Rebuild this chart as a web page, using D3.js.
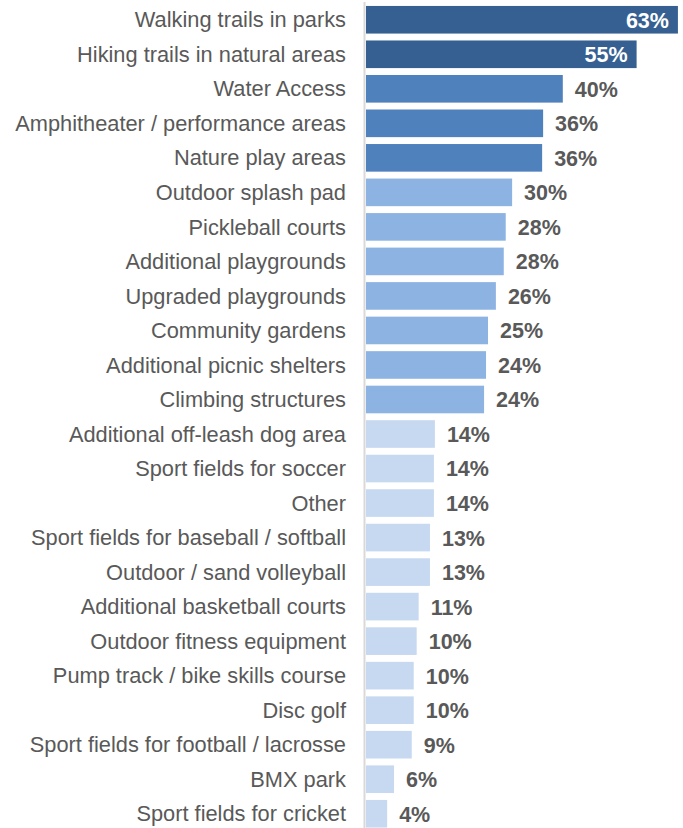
<!DOCTYPE html>
<html>
<head>
<meta charset="utf-8">
<script src="https://cdn.jsdelivr.net/npm/d3@7"></script>
<style>
  html, body { margin: 0; padding: 0; background: #fff; }
  #chart text { font-family: Arial, "Liberation Sans", sans-serif; }
</style>
</head>
<body>
<div id="chart"></div>
<script>
var categories = [
    "Walking trails in parks",
    "Hiking trails in natural areas",
    "Water Access",
    "Amphitheater / performance areas",
    "Nature play areas",
    "Outdoor splash pad",
    "Pickleball courts",
    "Additional playgrounds",
    "Upgraded playgrounds",
    "Community gardens",
    "Additional picnic shelters",
    "Climbing structures",
    "Additional off-leash dog area",
    "Sport fields for soccer",
    "Other",
    "Sport fields for baseball / softball",
    "Outdoor / sand volleyball",
    "Additional basketball courts",
    "Outdoor fitness equipment",
    "Pump track / bike skills course",
    "Disc golf",
    "Sport fields for football / lacrosse",
    "BMX park",
    "Sport fields for cricket"
];

// percent of respondents (bar lengths)
var values = [63.4, 55.0, 40.0, 36.0, 35.8, 29.7, 28.4, 28.0, 26.4, 24.8, 24.4, 24.0,
    14.0, 13.8, 13.8, 13.0, 13.0, 10.7, 10.3, 9.7, 9.7, 9.3, 5.7, 4.3];

var width = 683;
var height = 828;
var labelRight = 346;
var barLeft = 366;

var data = categories.map(function (c, i) {
    return { name: c, value: values[i] };
});

var svg = d3.select('#chart')
    .append('svg')
    .attr('width', width)
    .attr('height', height);

var x = d3.scaleLinear()
    .domain([0, 100])
    .range([barLeft, barLeft + 492]);

var y = d3.scaleBand()
    .domain(categories)
    .range([2.5, 831])
    .paddingInner(0.2)
    .paddingOuter(0.1);

var color = d3.scaleThreshold()
    .domain([20, 35, 50])
    .range(['#c6d9f1', '#8db3e2', '#4f81bd', '#366092']);

svg.append('g')
    .selectAll('rect')
    .data(data)
    .enter()
    .append('rect')
    .attr('x', x(0))
    .attr('y', function (d) { return y(d.name); })
    .attr('width', function (d) { return x(d.value) - x(0); })
    .attr('height', y.bandwidth())
    .attr('fill', function (d) { return color(d.value); });

// vertical axis line
svg.append('line')
    .attr('x1', 364.5)
    .attr('x2', 364.5)
    .attr('y1', 2)
    .attr('y2', height)
    .attr('stroke', '#d9d9d9')
    .attr('stroke-width', 2);

svg.append('g')
    .selectAll('text')
    .data(data)
    .enter()
    .append('text')
    .attr('x', labelRight)
    .attr('y', function (d) { return y(d.name) + y.bandwidth() / 2; })
    .attr('dy', '0.35em')
    .attr('text-anchor', 'end')
    .attr('fill', '#595959')
    .style('font-size', '21.8px')
    .text(function (d) { return d.name; });

svg.append('g')
    .selectAll('text')
    .data(data)
    .enter()
    .append('text')
    .attr('x', function (d) {
        return d.value > 50 ? x(d.value) - 9 : x(d.value) + 12;
    })
    .attr('y', function (d) { return y(d.name) + y.bandwidth() / 2; })
    .attr('dy', '0.37em')
    .attr('text-anchor', function (d) { return d.value > 50 ? 'end' : 'start'; })
    .attr('fill', function (d) { return d.value > 50 ? '#ffffff' : '#595959'; })
    .style('font-size', '21.5px')
    .style('font-weight', 'bold')
    .text(function (d) { return Math.round(d.value) + '%'; });
</script>
</body>
</html>
